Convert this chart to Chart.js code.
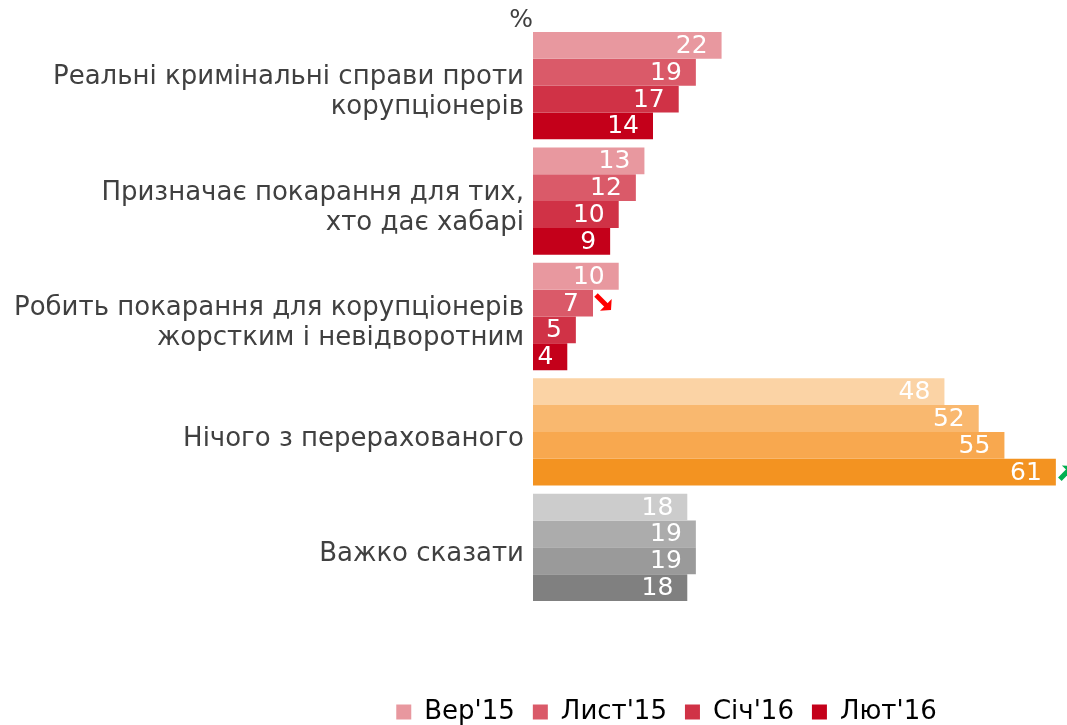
<!DOCTYPE html>
<html lang="uk">

<head>
    <meta charset="UTF-8">
    <script src="https://cdn.jsdelivr.net/npm/chart.js@4.4.0/dist/chart.umd.min.js"></script>
    <title>Chart</title>
    <style>
        html, body { margin: 0; padding: 0; background: #ffffff; }
        #wrap { width: 1067px; height: 725px; }
    </style>
</head>

<body>
    <div id="wrap"><canvas id="myChart"></canvas></div>
    <script>
        const categories = [
            ['Реальні кримінальні справи проти', 'корупціонерів'],
            ['Призначає покарання для тих,', 'хто дає хабарі'],
            ['Робить покарання для корупціонерів', 'жорстким і невідворотним'],
            'Нічого з перерахованого',
            'Важко сказати'
        ];
        const waves = ["Вер'15", "Лист'15", "Січ'16", "Лют'16"];
        const sep15 = [22, 13, 10, 48, 18];
        const nov15 = [19, 12, 7, 52, 19];
        const jan16 = [17, 10, 5, 55, 19];
        const feb16 = [14, 9, 4, 61, 18];

        // colours per wave: red groups, orange group, grey group
        const reds = ['#E8989F', '#DA5A69', '#D03246', '#C4001A'];
        const oranges = ['#FBD3A5', '#F9B86F', '#F8A84F', '#F39321'];
        const greys = ['#CCCCCC', '#ACACAC', '#9A9A9A', '#808080'];

        function colorsFor(i) {
            return [reds[i], reds[i], reds[i], oranges[i], greys[i]];
        }

        const series = [sep15, nov15, jan16, feb16];
        const datasets = series.map((vals, i) => ({
            label: waves[i],
            data: vals,
            backgroundColor: colorsFor(i),
            borderWidth: 0,
            barPercentage: 1,
            categoryPercentage: 0.93
        }));

        // arrows: [datasetIndex, categoryIndex, direction]
        const arrows = [[1, 2, 'down'], [3, 3, 'up']];

        const labelPlugin = {
            id: 'labels',
            afterLayout(chart) {
                const lg = chart.legend;
                lg.left = 266;
                lg.right = 1067;
                lg.top += 10;
                lg.bottom += 10;
            },
            afterDatasetsDraw(chart) {
                const ctx = chart.ctx;
                ctx.save();
                ctx.font = '25px "DejaVu Sans"';
                ctx.fillStyle = '#ffffff';
                ctx.textAlign = 'right';
                ctx.textBaseline = 'middle';
                chart.data.datasets.forEach((ds, di) => {
                    chart.getDatasetMeta(di).data.forEach((bar, i) => {
                        ctx.fillText(ds.data[i], bar.x - 14, bar.y + 1);
                    });
                });

                arrows.forEach(([di, ci, dir]) => {
                    const bar = chart.getDatasetMeta(di).data[ci];
                    let x0, y0, x1, y1, color;
                    if (dir === 'down') {
                        x0 = bar.x + 3; y0 = bar.y - 8; x1 = bar.x + 18; y1 = bar.y + 7; color = '#FF0000';
                    } else {
                        x0 = bar.x + 4; y0 = bar.y + 7; x1 = bar.x + 17; y1 = bar.y - 6; color = '#00B050';
                    }
                    const ang = Math.atan2(y1 - y0, x1 - x0);
                    ctx.strokeStyle = color;
                    ctx.fillStyle = color;
                    ctx.lineWidth = 5;
                    ctx.beginPath();
                    ctx.moveTo(x0, y0);
                    ctx.lineTo(x1 - 6 * Math.cos(ang), y1 - 6 * Math.sin(ang));
                    ctx.stroke();
                    ctx.beginPath();
                    ctx.moveTo(x1, y1);
                    ctx.lineTo(x1 - 11 * Math.cos(ang - 0.85), y1 - 11 * Math.sin(ang - 0.85));
                    ctx.lineTo(x1 - 11 * Math.cos(ang + 0.85), y1 - 11 * Math.sin(ang + 0.85));
                    ctx.closePath();
                    ctx.fill();
                });

                ctx.font = '25px "DejaVu Sans"';
                ctx.fillStyle = '#404040';
                ctx.textAlign = 'right';
                ctx.fillText('%', chart.chartArea.left, 20);
                ctx.restore();
            }
        };

        const ctx = document.getElementById('myChart').getContext('2d');
        const myChart = new Chart(ctx, {
            type: 'bar',
            data: {
                labels: categories,
                datasets: datasets
            },
            options: {
                indexAxis: 'y',
                responsive: true,
                maintainAspectRatio: false,
                animation: false,
                layout: { padding: { top: 28, left: 0, right: 0, bottom: 0 } },
                scales: {
                    x: {
                        min: 0,
                        max: 62.3,
                        grid: { display: false, drawTicks: false },
                        border: { display: false },
                        ticks: { display: false },
                        afterFit: (s) => { s.height = 66; }
                    },
                    y: {
                        grid: { display: false, drawTicks: false },
                        border: { display: false },
                        ticks: {
                            color: '#404040',
                            padding: 9,
                            labelOffset: 7,
                            font: { family: 'DejaVu Sans', size: 26, lineHeight: 1.154 }
                        },
                        afterFit: (s) => { s.width = 533; }
                    }
                },
                plugins: {
                    tooltip: { enabled: false },
                    legend: {
                        position: 'bottom',
                        labels: {
                            boxWidth: 15,
                            boxHeight: 15,
                            padding: 18,
                            color: '#3a3a3a',
                            font: { family: 'DejaVu Sans', size: 26 },
                            generateLabels: (chart) => waves.map((w, i) => ({
                                text: w,
                                fillStyle: reds[i],
                                strokeStyle: reds[i],
                                lineWidth: 0,
                                hidden: false,
                                datasetIndex: i
                            }))
                        }
                    }
                }
            },
            plugins: [labelPlugin]
        });
    </script>
</body>

</html>
